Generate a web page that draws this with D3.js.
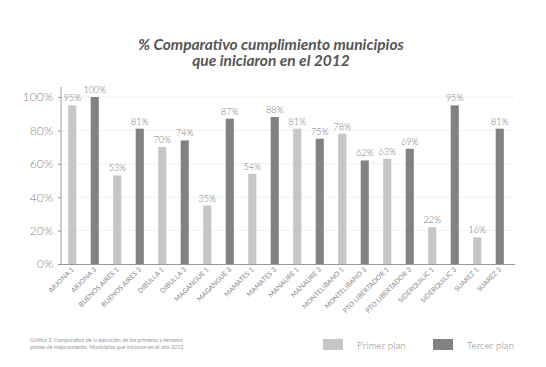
<html>
  <head>
    <meta charset="utf-8">
    <title>% Comparativo cumplimiento municipios</title>
    <script type="text/javascript" src="https://cdn.jsdelivr.net/npm/d3@7/dist/d3.min.js"></script>
    <style type="text/css">
      body { margin: 0; background: #fff; }
      text { font-family: Lato, "Open Sans", sans-serif; }
      .title { font-weight: bold; font-style: italic; fill: #555; font-size: 15.5px; }
      .ytick text { fill: #888; font-size: 12px; font-weight: 300; }
      .xlab { fill: #888; font-size: 6.8px; }
      .val { fill: #777; font-size: 9px; font-weight: 300; }
      .note { fill: #999; font-size: 5.4px; }
      .leg { fill: #888; font-size: 10px; font-weight: 300; }
    </style>
  </head>
  <body>
    <svg height="367" width="546"></svg>
    <script>
      var categories = [
        'ARJONA 1', 'ARJONA 3', 'BUENOS AIRES 1', 'BUENOS AIRES 3',
        'DIBULLA 1', 'DIBULLA 3', 'MAGANGUE 1', 'MAGANGUE 3',
        'MAMATES 1', 'MAMATES 3', 'MANAURE 1', 'MANAURE 3',
        'MONTELIBANO 1', 'MONTELIBANO 3', 'PTO LIBERTADOR 1', 'PTO LIBERTADOR 3',
        'SIDERQUILIC 1', 'SIDERQUILIC 3', 'SUAREZ 1', 'SUAREZ 3'
      ];
      var values = [95, 100, 53, 81, 70, 74, 35, 87, 54, 88, 81, 75, 78, 62, 63, 69, 22, 95, 16, 81];
      // plan of each bar: 1 = Primer plan, 3 = Tercer plan
      var plans = [1, 3, 1, 3, 1, 3, 1, 3, 1, 3, 1, 3, 1, 3, 1, 3, 1, 3, 1, 3];
      var yTicks = [0, 20, 40, 60, 80, 100];
      var legendLabels = ['Primer plan', 'Tercer plan'];
      var titleLines = ['% Comparativo cumplimiento municipios', 'que iniciaron en el 2012'];
      var noteLines = [
        'Gráfica 3. Comparativo de la ejecución de los primeros y terceros',
        'planes de mejoramiento. Municipios que iniciaron en el año 2012.'
      ];

      (function draw(){
        var light = '#c6c6c6', dark = '#828282';
        var color = function(p){ return p === 1 ? light : dark; };

        var svg = d3.select('svg');
        var mLeft = 61, mRight = 511, mTop = 97, mBottom = 264;

        var x = d3.scaleBand().domain(categories).range([mLeft, mRight]).padding(0);
        var y = d3.scaleLinear().domain([0, 100]).range([mBottom, mTop]);
        var barW = x.bandwidth() * 0.36;

        svg.selectAll('.title').data(titleLines).enter().append('text')
          .attr('class', 'title')
          .attr('x', 271).attr('y', function(d, i){ return 50 + i * 16; })
          .attr('text-anchor', 'middle')
          .text(function(d){ return d; });

        // faint grid
        svg.selectAll('.grid').data(yTicks.slice(1)).enter().append('line')
          .attr('x1', mLeft).attr('x2', mRight + 4)
          .attr('y1', function(d){ return y(d); }).attr('y2', function(d){ return y(d); })
          .attr('stroke', '#f1f1f1').attr('stroke-width', 1);

        var yAxis = svg.append('g').attr('class', 'ytick')
          .attr('transform', 'translate(' + mLeft + ',0)')
          .call(d3.axisLeft(y).tickValues(yTicks).tickSize(3).tickPadding(5)
            .tickFormat(function(d){ return d + '%'; }));
        yAxis.select('.domain').remove();
        yAxis.selectAll('line').attr('stroke', '#999');
        yAxis.append('line').attr('x1', 0).attr('x2', 0).attr('y1', 87).attr('y2', mBottom)
          .attr('stroke', '#999');

        svg.append('line').attr('x1', mLeft).attr('x2', mRight + 4)
          .attr('y1', mBottom + 0.5).attr('y2', mBottom + 0.5).attr('stroke', '#999');

        var bars = categories.map(function(c, i){ return {cat: c, value: values[i], plan: plans[i]}; });

        svg.selectAll('.bar').data(bars).enter().append('rect')
          .attr('class', 'bar')
          .attr('x', function(d){ return x(d.cat) + x.bandwidth() / 2 - barW / 2; })
          .attr('width', barW)
          .attr('y', function(d){ return y(d.value); })
          .attr('height', function(d){ return y(0) - y(d.value); })
          .attr('fill', function(d){ return color(d.plan); });

        svg.selectAll('.val').data(bars).enter().append('text')
          .attr('class', 'val')
          .attr('x', function(d){ return x(d.cat) + x.bandwidth() / 2; })
          .attr('y', function(d){ return y(d.value) - 4; })
          .attr('text-anchor', 'middle')
          .text(function(d){ return d.value + '%'; });

        svg.selectAll('.xlab').data(bars).enter().append('text')
          .attr('class', 'xlab')
          .attr('text-anchor', 'end')
          .attr('transform', function(d){
            return 'translate(' + (x(d.cat) + x.bandwidth() / 2 + 2) + ',' + (mBottom + 6) + ') rotate(-45)';
          })
          .text(function(d){ return d.cat; });

        svg.selectAll('.note').data(noteLines).enter().append('text')
          .attr('class', 'note')
          .attr('x', 30).attr('y', function(d, i){ return 342 + i * 7; })
          .text(function(d){ return d; });

        var leg = svg.selectAll('.legend').data(legendLabels).enter().append('g')
          .attr('transform', function(d, i){ return 'translate(' + (323 + i * 110) + ',339)'; });
        leg.append('rect').attr('width', 20).attr('height', 11)
          .attr('fill', function(d, i){ return i === 0 ? light : dark; });
        leg.append('text').attr('class', 'leg').attr('x', 34).attr('y', 10)
          .text(function(d){ return d; });
      })();
    </script>
  </body>
</html>
